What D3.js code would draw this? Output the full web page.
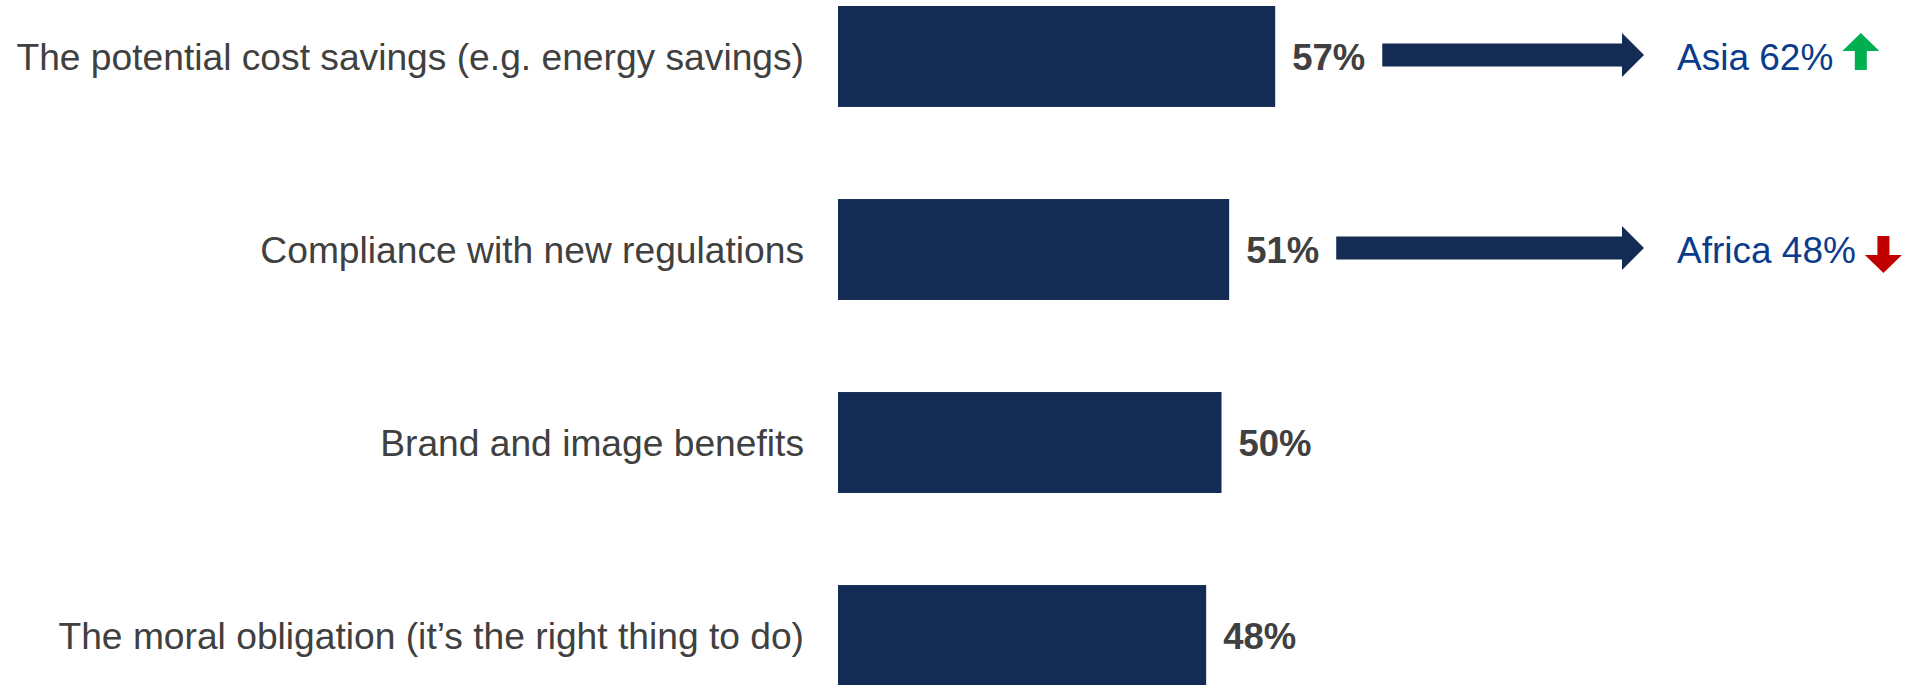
<!DOCTYPE html>
<html>
<head>
<meta charset="utf-8">
<script src="https://cdn.jsdelivr.net/npm/d3@7"></script>
<style>
  body { margin: 0; background: #fff; }
  svg { display: block; font-family: "Liberation Sans", Arial, sans-serif; }
</style>
</head>
<body>
<script>
// data
let categories = ['The potential cost savings (e.g. energy savings)',
                  'Compliance with new regulations',
                  'Brand and image benefits',
                  'The moral obligation (it\u2019s the right thing to do)'];
let values = [57, 51, 50, 48];

// regional call-outs (only the first two rows have one)
let calloutRows   = [0, 1];
let calloutRegion = ['Asia', 'Africa'];
let calloutValue  = [62, 48];

let width = 1907;
let height = 685;

let navy = '#142b54';
let grey = '#404040';

let svg = d3.select('body').append('svg')
  .attr('width', width)
  .attr('height', height);

let x = d3.scaleLinear()
  .domain([0, 100])
  .range([838, 1605]);

let y = d3.scaleBand()
  .domain(categories)
  .range([6, 686])
  .paddingInner(0.477)
  .paddingOuter(0);

let bw = y.bandwidth();

// bars
svg.append('g')
  .selectAll('rect')
  .data(values)
  .enter().append('rect')
  .attr('x', x(0))
  .attr('y', (d, i) => y(categories[i]))
  .attr('width', d => x(d) - x(0))
  .attr('height', bw)
  .attr('fill', navy);

// category labels
svg.append('g')
  .selectAll('text')
  .data(categories)
  .enter().append('text')
  .attr('x', x(0) - 34)
  .attr('y', d => y(d) + bw / 2)
  .attr('dy', '0.37em')
  .attr('text-anchor', 'end')
  .attr('fill', grey)
  .style('font-size', '37.2px')
  .text(d => d);

// value labels
let valueLabels = svg.append('g')
  .selectAll('text')
  .data(values)
  .enter().append('text')
  .attr('x', d => x(d) + 17)
  .attr('y', (d, i) => y(categories[i]) + bw / 2)
  .attr('dy', '0.38em')
  .attr('fill', grey)
  .style('font-size', '36.5px')
  .style('font-weight', 'bold')
  .text(d => d + '%');

// call-out arrows + regional figures
let arrowTip = 1644;
let textX = 1677;

calloutRows.forEach(function(row, k) {
  let cy = y(categories[row]) + bw / 2 - 1.5;
  let lbl = valueLabels.nodes()[row];
  let x0 = lbl.getBBox().x + lbl.getBBox().width + 17;

  let shaft = 11.5, head = 22, headLen = 22;
  let p = d3.path();
  p.moveTo(x0, cy - shaft);
  p.lineTo(arrowTip - headLen, cy - shaft);
  p.lineTo(arrowTip - headLen, cy - head);
  p.lineTo(arrowTip, cy);
  p.lineTo(arrowTip - headLen, cy + head);
  p.lineTo(arrowTip - headLen, cy + shaft);
  p.lineTo(x0, cy + shaft);
  p.closePath();
  svg.append('path').attr('d', p.toString()).attr('fill', navy);

  let t = svg.append('text')
    .attr('x', textX)
    .attr('y', cy)
    .attr('dy', '0.41em')
    .attr('fill', '#0b3c8c')
    .style('font-size', '37px')
    .text(calloutRegion[k] + ' ' + calloutValue[k] + '%');

  let tb = t.node().getBBox();
  let ix = tb.x + tb.width + 9;
  let up = calloutValue[k] > values[row];
  let w = 37, sw = 12, hh = 18, total = 37;
  let top = cy - 22, cx = ix + w / 2;
  let a = d3.path();
  if (up) {
    a.moveTo(cx, top);
    a.lineTo(ix + w, top + hh);
    a.lineTo(cx + sw / 2, top + hh);
    a.lineTo(cx + sw / 2, top + total);
    a.lineTo(cx - sw / 2, top + total);
    a.lineTo(cx - sw / 2, top + hh);
    a.lineTo(ix, top + hh);
  } else {
    top = cy - 12;
    a.moveTo(cx - sw / 2, top);
    a.lineTo(cx + sw / 2, top);
    a.lineTo(cx + sw / 2, top + total - hh);
    a.lineTo(ix + w, top + total - hh);
    a.lineTo(cx, top + total);
    a.lineTo(ix, top + total - hh);
    a.lineTo(cx - sw / 2, top + total - hh);
  }
  a.closePath();
  svg.append('path').attr('d', a.toString()).attr('fill', up ? '#00b050' : '#c00000');
});
</script>
</body>
</html>
